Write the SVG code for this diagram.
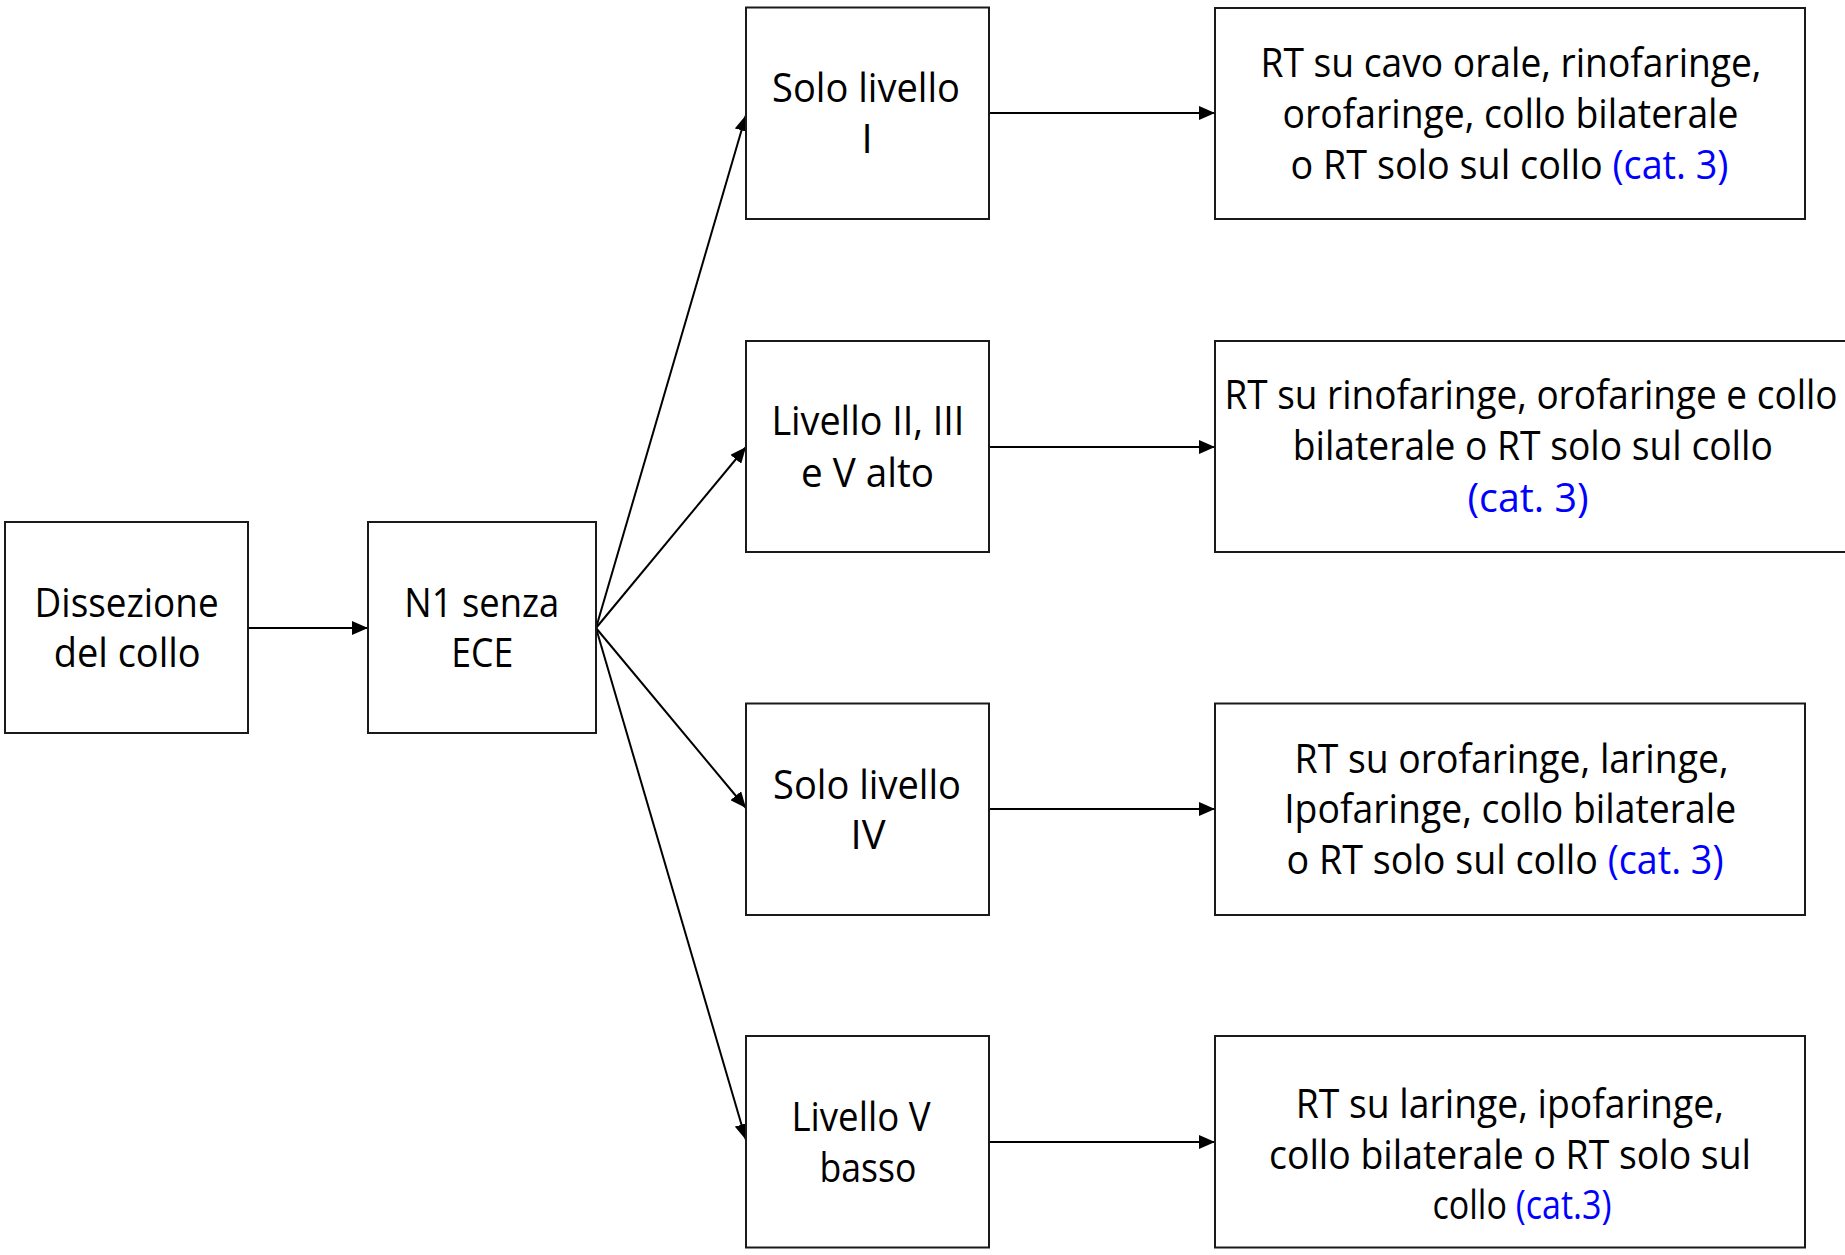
<svg xmlns="http://www.w3.org/2000/svg" width="1845" height="1255" viewBox="0 0 1845 1255">
  <style>
    .box { fill: #ffffff; stroke: #1a1a1a; stroke-width: 2; }
    .lbl { font-family: "Open Sans", "Noto Sans", "Liberation Sans", sans-serif; font-size: 40px; fill: #000000; text-anchor: middle; }
    .cat { fill: #0000ff; }
    .edge { fill: none; stroke: #000000; stroke-width: 2; }
  </style>
  <defs>
    <marker id="arrow" markerUnits="userSpaceOnUse" markerWidth="16" markerHeight="14" refX="16" refY="7" orient="auto">
      <path d="M0,0 L16,7 L0,14 z" fill="#000000"/>
    </marker>
  </defs>

  <rect width="1845" height="1255" fill="#ffffff"/>

  <!-- connectors -->
  <g id="connectors">
    <line class="edge" x1="248" y1="628" x2="368" y2="628" marker-end="url(#arrow)"/>
    <line class="edge" x1="596" y1="628" x2="746" y2="115" marker-end="url(#arrow)"/>
    <line class="edge" x1="596" y1="628" x2="746" y2="447" marker-end="url(#arrow)"/>
    <line class="edge" x1="596" y1="628" x2="746" y2="808" marker-end="url(#arrow)"/>
    <line class="edge" x1="596" y1="628" x2="746" y2="1140" marker-end="url(#arrow)"/>
    <line class="edge" x1="989" y1="113" x2="1215" y2="113" marker-end="url(#arrow)"/>
    <line class="edge" x1="989" y1="447" x2="1215" y2="447" marker-end="url(#arrow)"/>
    <line class="edge" x1="989" y1="809" x2="1215" y2="809" marker-end="url(#arrow)"/>
    <line class="edge" x1="989" y1="1142" x2="1215" y2="1142" marker-end="url(#arrow)"/>
  </g>

  <!-- first column -->
  <g id="dissezione">
    <rect class="box" x="5" y="522" width="243" height="211"/>
    <text class="lbl" x="126.6" y="617" textLength="184" lengthAdjust="spacingAndGlyphs">Dissezione</text>
    <text class="lbl" x="127.2" y="667" textLength="147" lengthAdjust="spacingAndGlyphs">del collo</text>
  </g>

  <g id="n1-senza-ece">
    <rect class="box" x="368" y="522" width="228" height="211"/>
    <text class="lbl" x="481.8" y="617" textLength="155" lengthAdjust="spacingAndGlyphs">N1 senza</text>
    <text class="lbl" x="482.2" y="667" textLength="62" lengthAdjust="spacingAndGlyphs">ECE</text>
  </g>

  <!-- levels -->
  <g id="livello-1">
    <rect class="box" x="746" y="7.5" width="243" height="211.5"/>
    <text class="lbl" x="866" y="102" textLength="188" lengthAdjust="spacingAndGlyphs">Solo livello</text>
    <text class="lbl" x="867" y="153">I</text>
  </g>

  <g id="livello-2-3-5alto">
    <rect class="box" x="746" y="341" width="243" height="211"/>
    <text class="lbl" x="867.9" y="435" textLength="193" lengthAdjust="spacingAndGlyphs">Livello II, III</text>
    <text class="lbl" x="867.5" y="487" textLength="133" lengthAdjust="spacingAndGlyphs">e V alto</text>
  </g>

  <g id="livello-4">
    <rect class="box" x="746" y="703.5" width="243" height="211.5"/>
    <text class="lbl" x="867" y="799" textLength="188" lengthAdjust="spacingAndGlyphs">Solo livello</text>
    <text class="lbl" x="868" y="849">IV</text>
  </g>

  <g id="livello-5basso">
    <rect class="box" x="746" y="1036" width="243" height="211.5"/>
    <text class="lbl" x="861" y="1131" textLength="139" lengthAdjust="spacingAndGlyphs">Livello V</text>
    <text class="lbl" x="868" y="1182" textLength="97" lengthAdjust="spacingAndGlyphs">basso</text>
  </g>

  <!-- treatment boxes -->
  <g id="rt-1">
    <rect class="box" x="1215" y="8" width="590" height="211"/>
    <text class="lbl" x="1511" y="77" textLength="501" lengthAdjust="spacingAndGlyphs">RT su cavo orale, rinofaringe,</text>
    <text class="lbl" x="1510.5" y="128" textLength="456" lengthAdjust="spacingAndGlyphs">orofaringe, collo bilaterale</text>
    <text class="lbl" x="1509.5" y="179" textLength="438" lengthAdjust="spacingAndGlyphs">o RT solo sul collo <tspan class="cat">(cat. 3)</tspan></text>
  </g>

  <g id="rt-2">
    <rect class="box" x="1215" y="341" width="633" height="211"/>
    <text class="lbl" x="1531" y="409" textLength="613" lengthAdjust="spacingAndGlyphs">RT su rinofaringe, orofaringe e collo</text>
    <text class="lbl" x="1532.8" y="460" textLength="480" lengthAdjust="spacingAndGlyphs">bilaterale o RT solo sul collo</text>
    <text class="lbl cat" x="1528" y="512" textLength="121" lengthAdjust="spacingAndGlyphs">(cat. 3)</text>
  </g>

  <g id="rt-3">
    <rect class="box" x="1215" y="703.5" width="590" height="211.5"/>
    <text class="lbl" x="1511.6" y="773" textLength="434" lengthAdjust="spacingAndGlyphs">RT su orofaringe, laringe,</text>
    <text class="lbl" x="1510.2" y="823" textLength="452" lengthAdjust="spacingAndGlyphs">Ipofaringe, collo bilaterale</text>
    <text class="lbl" x="1505" y="874" textLength="437" lengthAdjust="spacingAndGlyphs">o RT solo sul collo <tspan class="cat">(cat. 3)</tspan></text>
  </g>

  <g id="rt-4">
    <rect class="box" x="1215" y="1036" width="590" height="211.5"/>
    <text class="lbl" x="1509.8" y="1118" textLength="428" lengthAdjust="spacingAndGlyphs">RT su laringe, ipofaringe,</text>
    <text class="lbl" x="1510" y="1169" textLength="482" lengthAdjust="spacingAndGlyphs">collo bilaterale o RT solo sul</text>
    <text class="lbl" x="1522" y="1219" textLength="179" lengthAdjust="spacingAndGlyphs">collo <tspan class="cat">(cat.3)</tspan></text>
  </g>
</svg>
